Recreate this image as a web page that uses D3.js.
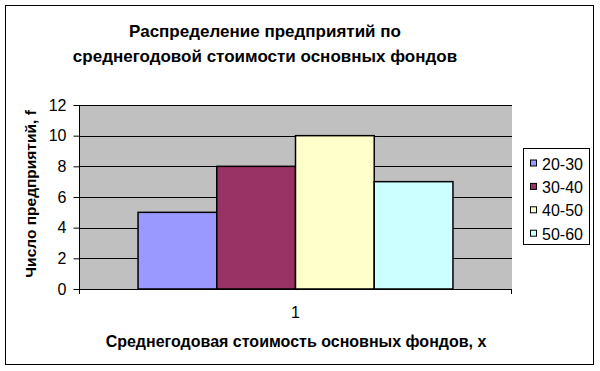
<!DOCTYPE html>
<html>
<head>
<meta charset="utf-8">
<script src="https://cdn.jsdelivr.net/npm/d3@7"></script>
<style>
  body { margin: 0; background: #fff; }
  svg { display: block; font-family: Arial, 'Liberation Sans', sans-serif; }
</style>
</head>
<body>
<svg width="600" height="371"></svg>
<script>
const categories = ['1'];
const seriesNames = ['20-30', '30-40', '40-50', '50-60'];
const seriesValues = [5, 8, 10, 7];
const seriesColors = ['#9999FF', '#993366', '#FFFFCC', '#CCFFFF'];
const yTicks = [0, 2, 4, 6, 8, 10, 12];

const svg = d3.select('svg');

// outer chart border
svg.append('rect')
  .attr('x', 5.5).attr('y', 5.5)
  .attr('width', 588).attr('height', 359)
  .attr('fill', '#fff')
  .attr('stroke', '#000')
  .attr('stroke-width', 1);

const plot = { left: 79, right: 512, top: 105, bottom: 289 };

const y = d3.scaleLinear().domain([0, 12]).range([plot.bottom, plot.top]);
const x = d3.scaleBand().domain(categories).range([plot.left, plot.right]);
// gap width 150% -> group takes 4/(4+1.5) of the category
const inner = d3.scaleBand().domain(seriesNames)
  .range([0, x.bandwidth()])
  .paddingOuter(0.75).paddingInner(0);

const g = svg.append('g');

g.append('rect')
  .attr('x', plot.left).attr('y', plot.top)
  .attr('width', plot.right - plot.left).attr('height', plot.bottom - plot.top)
  .attr('fill', '#C0C0C0');

// gridlines
g.append('g').selectAll('line')
  .data(yTicks.filter(d => d > 0))
  .join('line')
  .attr('x1', plot.left).attr('x2', plot.right)
  .attr('y1', d => Math.round(y(d)) + 0.5).attr('y2', d => Math.round(y(d)) + 0.5)
  .attr('stroke', '#000').attr('stroke-width', 1);

// bars
const bars = seriesNames.map((name, i) => ({ name, value: seriesValues[i], color: seriesColors[i] }));
g.append('g').selectAll('rect')
  .data(bars)
  .join('rect')
  .attr('x', d => x('1') + inner(d.name))
  .attr('y', d => y(d.value))
  .attr('width', inner.bandwidth())
  .attr('height', d => y(0) - y(d.value))
  .attr('fill', d => d.color)
  .attr('stroke', '#000')
  .attr('stroke-width', 1.5);

// y axis
const yAxis = d3.axisLeft(y).tickValues(yTicks).tickSize(6).tickPadding(7);
svg.append('g')
  .attr('transform', `translate(${plot.left + 0.5},0)`)
  .call(yAxis)
  .call(a => a.select('.domain').attr('stroke', '#000').attr('d', `M0,${plot.top}V${plot.bottom}`))
  .call(a => a.selectAll('.tick line').attr('stroke', '#000'))
  .call(a => a.selectAll('.tick text').attr('font-size', 16).attr('fill', '#000')
    .attr('font-family', 'Arial, Liberation Sans, sans-serif'));

// x axis baseline with boundary ticks
svg.append('path')
  .attr('d', `M${plot.left},${plot.bottom + 0.5}H${plot.right}M${plot.left + 0.5},${plot.bottom}v5M${plot.right - 0.5},${plot.bottom}v5`)
  .attr('stroke', '#000').attr('fill', 'none');

svg.append('g').selectAll('text')
  .data(categories)
  .join('text')
  .attr('x', d => x(d) + x.bandwidth() / 2)
  .attr('y', 318)
  .attr('text-anchor', 'middle')
  .attr('font-size', 16)
  .text(d => d);

// titles
const title = ['Распределение предприятий по', 'среднегодовой стоимости основных фондов'];
svg.append('g').selectAll('text')
  .data(title)
  .join('text')
  .attr('x', 265)
  .attr('y', (d, i) => 37 + i * 25)
  .attr('text-anchor', 'middle')
  .attr('font-size', 17)
  .attr('font-weight', 'bold')
  .text(d => d);

svg.append('text')
  .attr('x', 296).attr('y', 347)
  .attr('text-anchor', 'middle')
  .attr('font-size', 16).attr('font-weight', 'bold')
  .text('Среднегодовая стоимость основных фондов, x');

svg.append('text')
  .attr('transform', 'translate(36,194) rotate(-90)')
  .attr('text-anchor', 'middle')
  .attr('font-size', 15.5).attr('font-weight', 'bold')
  .text('Число предприятий, f');

// legend
const legend = svg.append('g');
legend.append('rect')
  .attr('x', 523.5).attr('y', 148.5)
  .attr('width', 66).attr('height', 96)
  .attr('fill', '#fff').attr('stroke', '#000');
const items = legend.selectAll('g')
  .data(bars)
  .join('g')
  .attr('transform', (d, i) => `translate(530,${163.5 + i * 23.4})`);
items.append('rect')
  .attr('x', 0.5).attr('y', -3.5)
  .attr('width', 6).attr('height', 6)
  .attr('fill', d => d.color).attr('stroke', '#000');
items.append('text')
  .attr('x', 12).attr('y', 6)
  .attr('font-size', 16)
  .text(d => d.name);
</script>
</body>
</html>
